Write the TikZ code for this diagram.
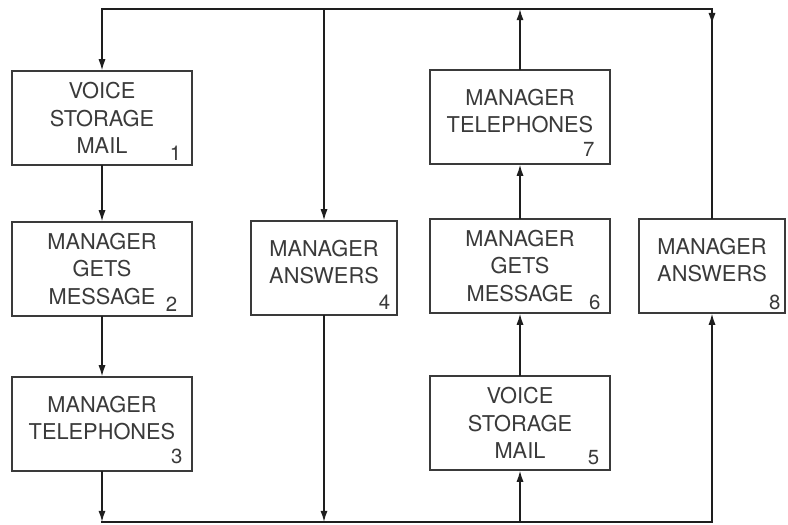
\documentclass[tikz,border=0pt]{standalone}
\usepackage{fontspec}
\setmainfont{TeX Gyre Heros}
\usetikzlibrary{arrows.meta,positioning,decorations.markings}
\definecolor{Ink}{HTML}{1E1E1E}
\definecolor{Pencil}{HTML}{3A3A3A}

\begin{document}
\begin{tikzpicture}[
    x=0.025cm, y=-0.025cm,
    box/.style={draw=Pencil,line width=0.9pt,minimum width=4.5cm,minimum height=2.35cm,inner sep=0pt,align=center,text=Pencil,font=\fontsize{15.5}{19.5}\selectfont},
    twoline/.style={text depth=9pt},
    narrow/.style={box,minimum width=3.65cm},
    num/.style={inner sep=0pt,text=Pencil,font=\fontsize{14.5}{14.5}\selectfont},
    rail/.style={line width=1.1pt,line cap=rect,color=Ink},
    arrow/.style={rail,-{Latex[length=2.8mm,width=1.8mm]}},
    downmark/.style={rail,postaction={decorate},decoration={markings,mark=at position 0.38cm with {\arrow{Latex[length=2.8mm,width=1.8mm]}}}}
  ]
    \useasboundingbox (0,0) rectangle (788,525);
    \coordinate (top) at (0,9);
    \coordinate (bot) at (0,522);

    \node[box] (b1) at (102,118) {VOICE\\STORAGE\\MAIL};
    \node[box] (b2) at (102,269) {MANAGER\\GETS\\MESSAGE};
    \node[box,twoline] (b3) at (102,424) {MANAGER\\TELEPHONES};
    \node[narrow,twoline] (b4) at (324,268) {MANAGER\\ANSWERS};
    \node[box] (b5) at (520,423) {VOICE\\STORAGE\\MAIL};
    \node[box] (b6) at (520,266) {MANAGER\\GETS\\MESSAGE};
    \node[box,twoline] (b7) at (520,117) {MANAGER\\TELEPHONES};
    \node[narrow,twoline] (b8) at (712,266) {MANAGER\\ANSWERS};

    \node[num,above left=0.12cm and 0.28cm of b1.south east] (n1) {1};
    \node[num,above left=0.12cm and 0.38cm of b2.south east] (n2) {2};
    \node[num,above left=0.18cm and 0.25cm of b3.south east] (n3) {3};
    \node[num,above left=0.15cm and 0.18cm of b4.south east] (n4) {4};
    \node[num,above left=0.15cm and 0.28cm of b5.south east] (n5) {5};
    \node[num,above left=0.08cm and 0.25cm of b6.south east] (n6) {6};
    \node[num,above left=0.2cm and 0.4cm of b7.south east] (n7) {7};
    \node[num,above left=0.08cm and 0.12cm of b8.south east] (n8) {8};

    \draw[rail] (b1 |- top) -- (b8 |- top);
    \draw[arrow] (b1 |- top) -- (b1);
    \draw[arrow] (b4 |- top) -- (b4);
    \draw[arrow] (b7) -- (b7 |- top);
    \draw[downmark] (b8 |- top) -- (b8);
    \draw[arrow] (b1) -- (b2);
    \draw[arrow] (b2) -- (b3);
    \draw[arrow] (b3) -- (b3 |- bot);
    \draw[arrow] (b4) -- (b4 |- bot);
    \draw[rail] (b3 |- bot) -- (b8 |- bot);
    \draw[arrow] (b5 |- bot) -- (b5);
    \draw[arrow] (b5) -- (b6);
    \draw[arrow] (b6) -- (b7);
    \draw[arrow] (b8 |- bot) -- (b8);
  \end{tikzpicture}
\end{document}
